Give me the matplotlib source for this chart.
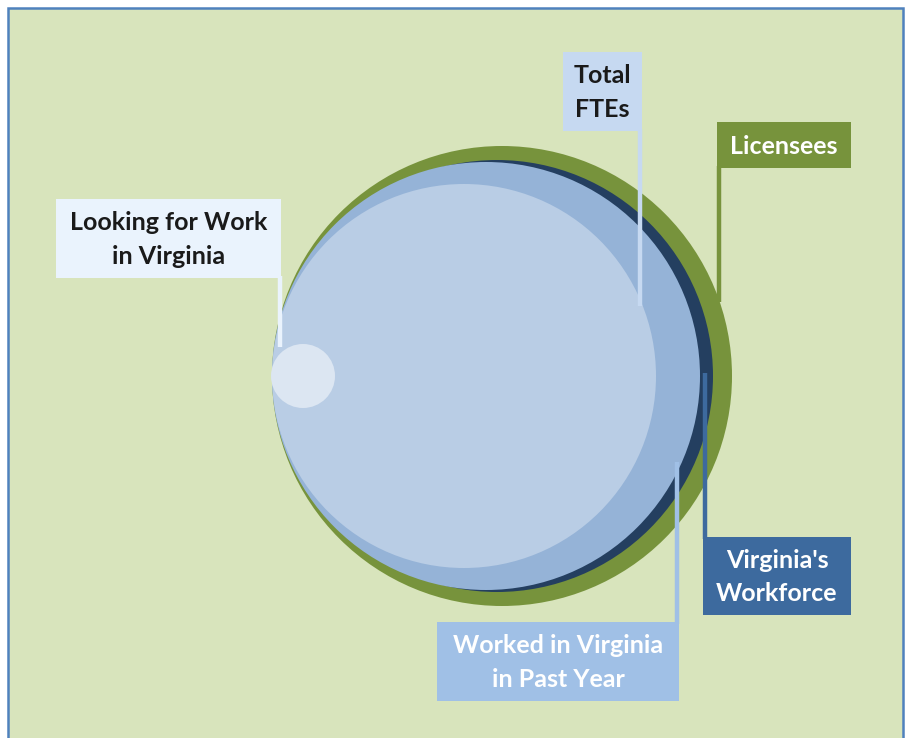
import matplotlib
matplotlib.use("Agg")
import matplotlib.pyplot as plt
from matplotlib.patches import Circle, Rectangle

# ---- data (relative bubble sizes) ----
categories = ["Licensees", "Virginia's Workforce", "Worked in Virginia in Past Year",
              "Total FTEs", "Looking for Work in Virginia"]
radii = [230, 216, 214, 192, 32]
label_texts = ["Licensees", "Virginia's\nWorkforce", "Worked in Virginia\nin Past Year",
               "Total\nFTEs", "Looking for Work\nin Virginia"]

# ---- layout / styles ----
centers_x = [502, 497, 486, 464, 303]
center_y = 376
circle_colors = ["#77933c", "#243f60", "#95b3d7", "#b9cde5", "#dce6f2"]
box_colors = ["#77933c", "#3d6a9e", "#a0c0e6", "#c6d9f1", "#eaf3fd"]
text_colors = ["white", "white", "white", "#1a1a1a", "#1a1a1a"]
line_colors = ["#77933c", "#3d6a9e", "#a0c0e6", "#c6d9f1", "#eaf3fd"]
# box: (x0, y0, x1, y1); leader line: (x, y_top, y_bottom)
boxes = [(717, 122, 851, 168), (703, 537, 851, 615), (437, 622, 679, 701),
         (563, 52, 642, 131), (56, 199, 281, 278)]
leaders = [(719, 166, 302), (705, 373, 539), (677, 462, 624),
           (640, 129, 306), (280, 276, 347)]

W, H = 910, 738
fig = plt.figure(figsize=(W / 100, H / 100), dpi=100)
fig.patch.set_facecolor("white")
ax = fig.add_axes([0, 0, 1, 1])
ax.set_xlim(0, W)
ax.set_ylim(H, 0)
ax.axis("off")

# panel background + border
ax.add_patch(Rectangle((8, 8), 895, 760, facecolor="#d8e4bc", edgecolor="#4f81bd",
                       linewidth=1.8, zorder=0))

# bubbles
for i, r in enumerate(radii):
    ax.add_patch(Circle((centers_x[i], center_y), r, facecolor=circle_colors[i],
                        edgecolor="none", zorder=1 + i))

# labels
for i, (b, ld) in enumerate(zip(boxes, leaders)):
    x0, y0, x1, y1 = b
    ax.add_patch(Rectangle((x0, y0), x1 - x0, y1 - y0, facecolor=box_colors[i],
                           edgecolor="none", zorder=10))
    lx, ly0, ly1 = ld
    ax.plot([lx, lx], [ly0, ly1], color=line_colors[i], linewidth=3.2,
            solid_capstyle="butt", zorder=10)
    ax.text((x0 + x1) / 2, (y0 + y1) / 2 + 1, label_texts[i], ha="center", va="center",
            color=text_colors[i], fontsize=18, fontweight="bold",
            family=["Lato", "DejaVu Sans"], linespacing=1.55, zorder=11)

fig.savefig("out.png", dpi=100, facecolor="white")
